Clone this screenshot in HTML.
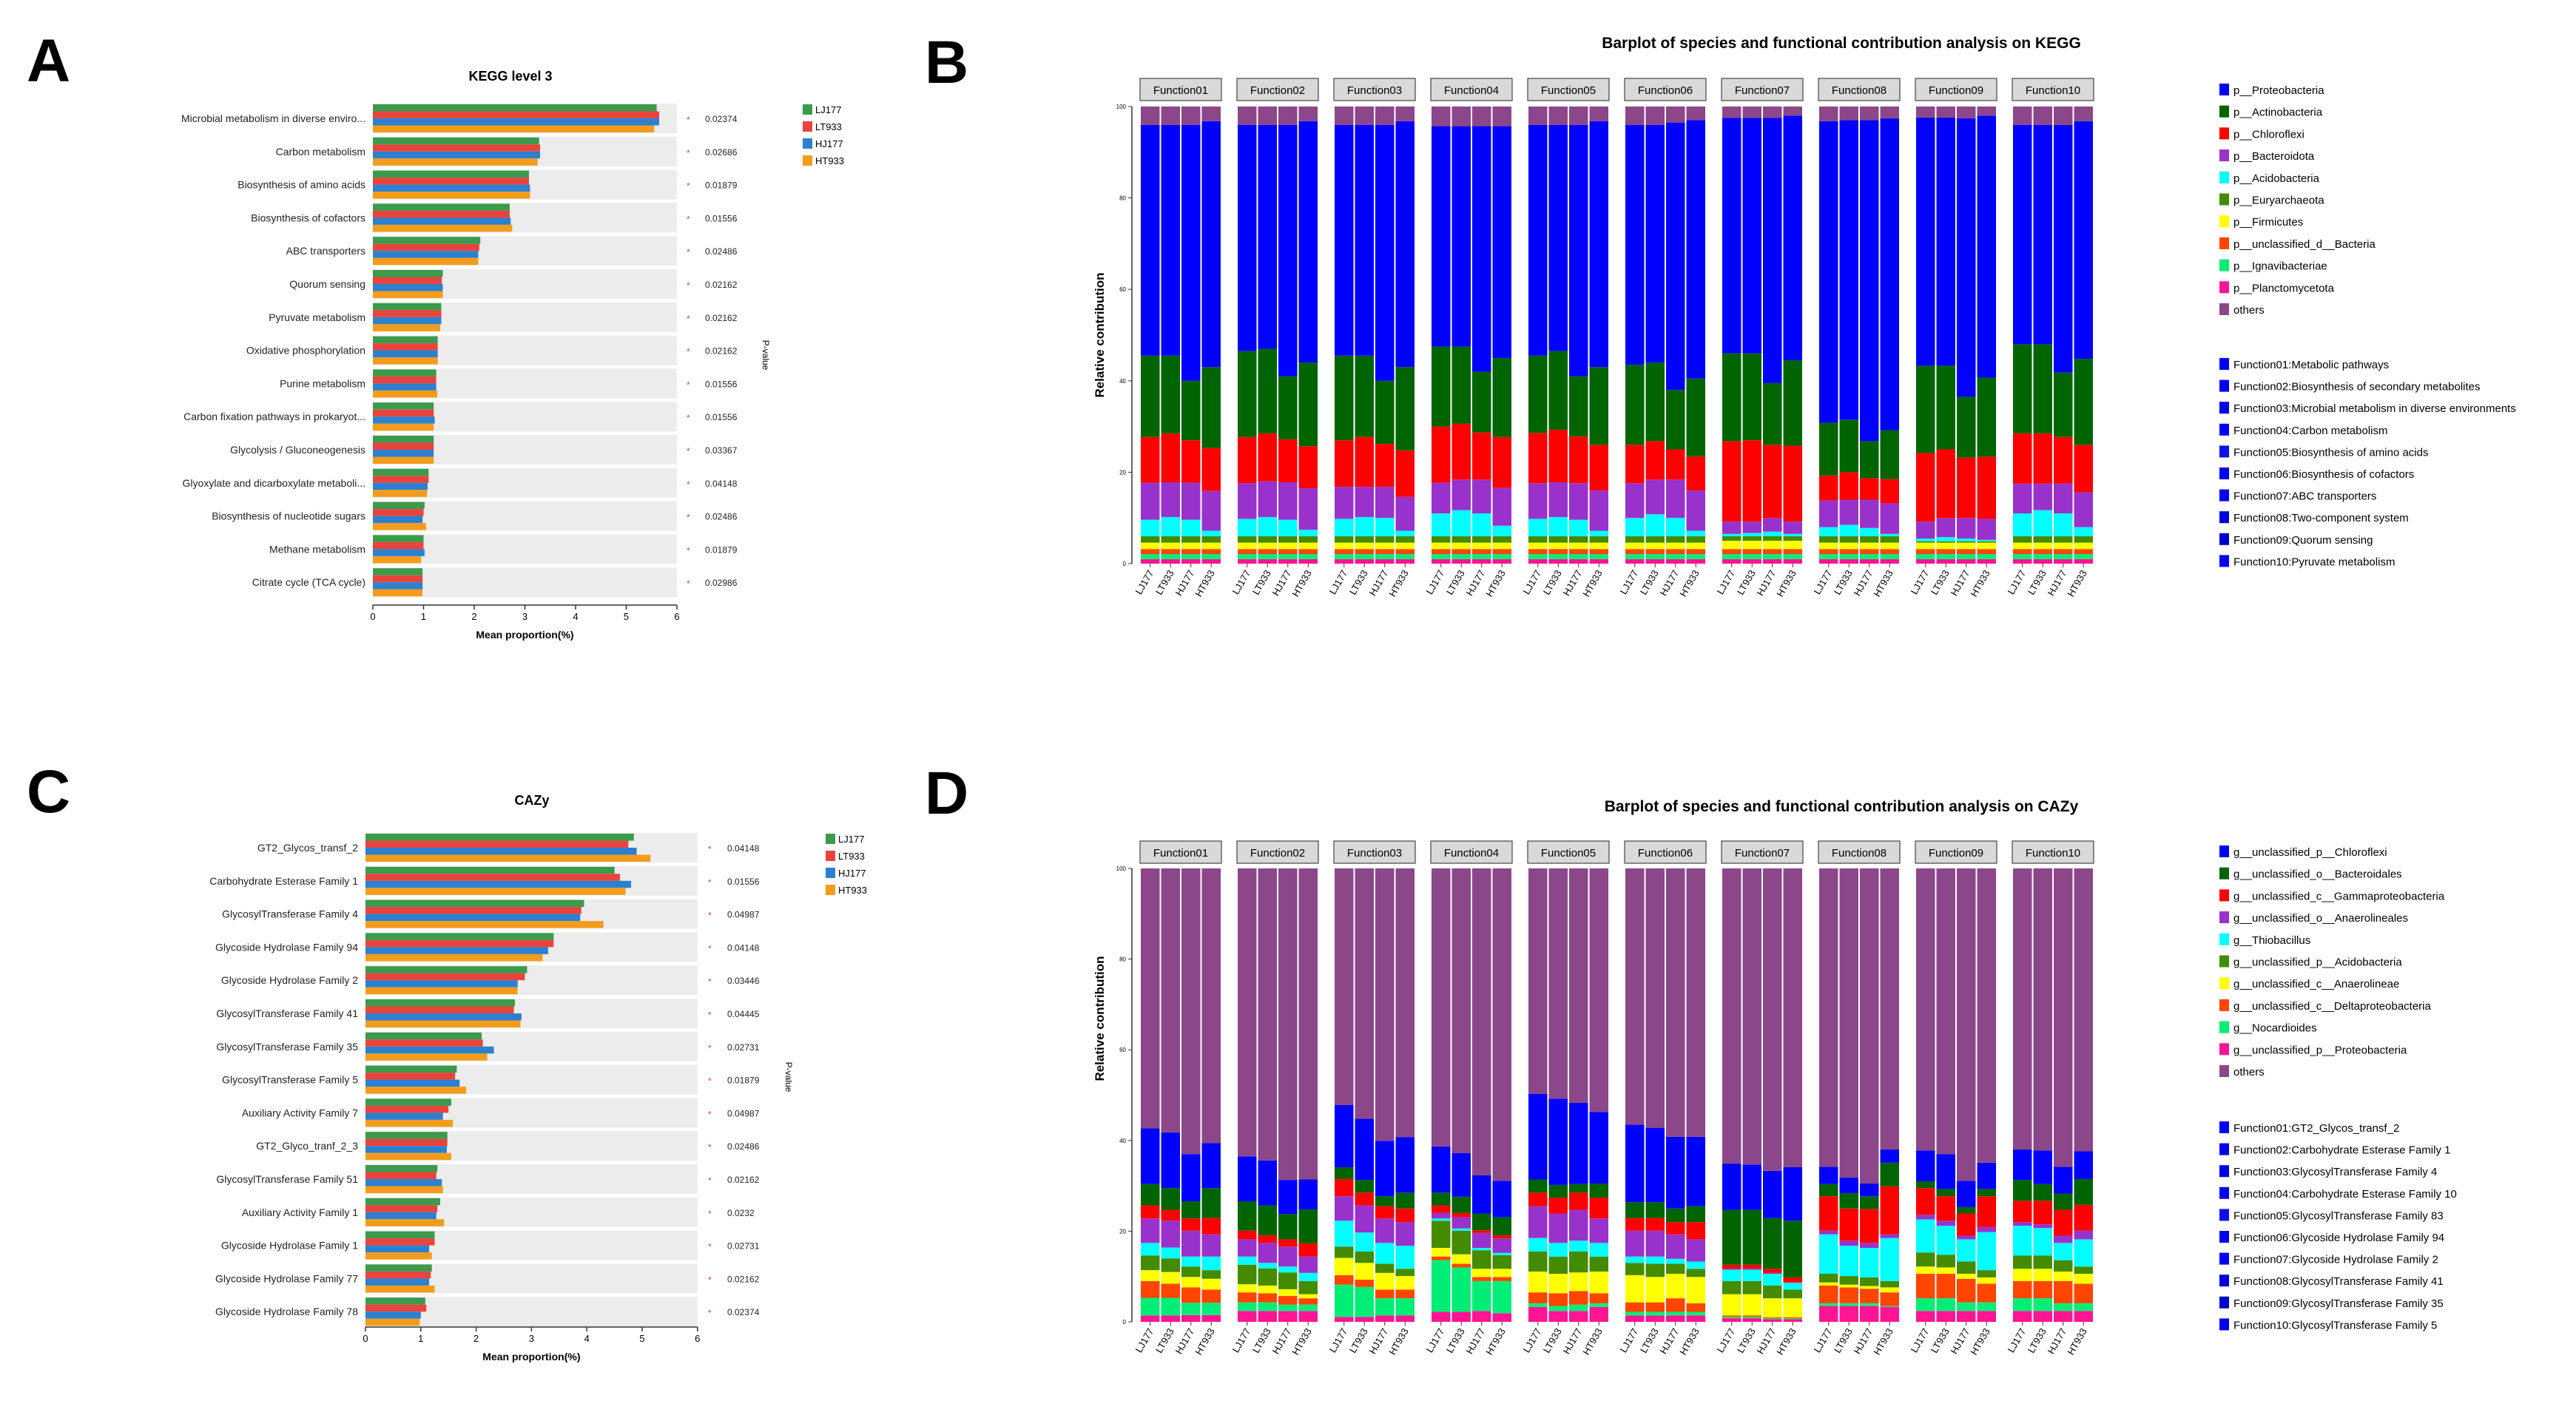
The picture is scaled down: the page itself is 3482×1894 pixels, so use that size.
<!DOCTYPE html>
<html><head><meta charset="utf-8"><style>
html,body{margin:0;padding:0;background:#fff;}
svg{display:block;font-family:"Liberation Sans",sans-serif;}
</style></head><body>
<svg id="fig" width="3482" height="1894" viewBox="0 0 3482 1894" xmlns="http://www.w3.org/2000/svg">
<rect x="0" y="0" width="3482" height="1894" fill="#fff"/>
<text x="36" y="110" font-size="82" font-weight="bold">A</text>
<text x="1250" y="112" font-size="82" font-weight="bold">B</text>
<text x="36" y="1098" font-size="82" font-weight="bold">C</text>
<text x="1250" y="1100" font-size="82" font-weight="bold">D</text>
<g id="gA"></g>
<g id="gC"></g>
<g id="gB"></g>
<g id="gD"></g>
</svg>
<script>
// ---------- Panel A data ----------
const keggCategories = ["Microbial metabolism in diverse enviro...","Carbon metabolism","Biosynthesis of amino acids","Biosynthesis of cofactors","ABC transporters","Quorum sensing","Pyruvate metabolism","Oxidative phosphorylation","Purine metabolism","Carbon fixation pathways in prokaryot...","Glycolysis / Gluconeogenesis","Glyoxylate and dicarboxylate metaboli...","Biosynthesis of nucleotide sugars","Methane metabolism","Citrate cycle (TCA cycle)"];
const keggLJ177 = [5.6,3.28,3.08,2.7,2.12,1.38,1.35,1.28,1.25,1.2,1.2,1.1,1.02,1.0,0.98];
const keggLT933 = [5.65,3.3,3.08,2.7,2.1,1.36,1.35,1.28,1.25,1.2,1.2,1.1,1.0,1.0,0.98];
const keggHJ177 = [5.65,3.3,3.1,2.72,2.08,1.38,1.35,1.28,1.25,1.22,1.2,1.08,0.98,1.02,0.98];
const keggHT933 = [5.55,3.25,3.1,2.75,2.08,1.38,1.33,1.28,1.27,1.2,1.2,1.07,1.05,0.95,0.98];
const keggPvalues = ["0.02374","0.02686","0.01879","0.01556","0.02486","0.02162","0.02162","0.02162","0.01556","0.01556","0.03367","0.04148","0.02486","0.01879","0.02986"];
const hbarTicks = [0,1,2,3,4,5,6];
const groupNames = ["LJ177","LT933","HJ177","HT933"];

// ---------- Panel C data ----------
const cazyCategories = ["GT2_Glycos_transf_2","Carbohydrate Esterase Family 1","GlycosylTransferase Family 4","Glycoside Hydrolase Family 94","Glycoside Hydrolase Family 2","GlycosylTransferase Family 41","GlycosylTransferase Family 35","GlycosylTransferase Family 5","Auxiliary Activity Family 7","GT2_Glyco_tranf_2_3","GlycosylTransferase Family 51","Auxiliary Activity Family 1","Glycoside Hydrolase Family 1","Glycoside Hydrolase Family 77","Glycoside Hydrolase Family 78"];
const cazyLJ177 = [4.85,4.5,3.95,3.4,2.92,2.7,2.1,1.65,1.55,1.48,1.3,1.35,1.25,1.2,1.08];
const cazyLT933 = [4.75,4.6,3.9,3.4,2.88,2.68,2.12,1.62,1.5,1.48,1.28,1.3,1.25,1.18,1.1];
const cazyHJ177 = [4.9,4.8,3.88,3.3,2.75,2.82,2.32,1.7,1.4,1.47,1.38,1.28,1.15,1.15,1.0];
const cazyHT933 = [5.15,4.7,4.3,3.2,2.75,2.8,2.2,1.82,1.58,1.55,1.4,1.42,1.2,1.25,0.98];
const cazyPvalues = ["0.04148","0.01556","0.04987","0.04148","0.03446","0.04445","0.02731","0.01879","0.04987","0.02486","0.02162","0.0232","0.02731","0.02162","0.02374"];

// ---------- Panel B data (per-series values, 10 functions x 4 samples) ----------
const functionNames = ["Function01","Function02","Function03","Function04","Function05","Function06","Function07","Function08","Function09","Function10"];
const stackTicks = [0,20,40,60,80,100];
const bPlancto = [1,1,1,1, 1,1,1,1, 1,1,1,1, 1,1,1,1, 1,1,1,1, 1,1,1,1, 1,1,1,1, 1,1,1,1, 1,1,1,1, 1,1,1,1];
const bIgnav   = [1.1,1.1,1.1,1.1, 1.1,1.1,1.1,1.1, 1.1,1.1,1.1,1.1, 1.1,1.1,1.1,1.1, 1.1,1.1,1.1,1.1, 1.1,1.1,1.1,1.1, 1.1,1.1,1.1,1.1, 1.1,1.1,1.1,1.1, 1.1,1.1,1.1,1.1, 1.1,1.1,1.1,1.1];
const bUnclass = [1.1,1.1,1.1,1.1, 1.1,1.1,1.1,1.1, 1.1,1.1,1.1,1.1, 1.1,1.1,1.1,1.1, 1.1,1.1,1.1,1.1, 1.1,1.1,1.1,1.1, 1.1,1.1,1.1,1.1, 1.1,1.1,1.1,1.1, 1.1,1.1,1.1,1.1, 1.1,1.1,1.1,1.1];
const bFirmi   = [1.4,1.4,1.4,1.4, 1.4,1.4,1.4,1.4, 1.4,1.4,1.4,1.4, 1.4,1.4,1.4,1.4, 1.4,1.4,1.4,1.4, 1.4,1.4,1.4,1.4, 1.8,1.8,1.8,1.8, 1.4,1.4,1.4,1.4, 1.4,1.4,1.4,1.4, 1.4,1.4,1.4,1.4];
const bEury    = [1.4,1.4,1.4,1.4, 1.4,1.4,1.4,1.4, 1.4,1.4,1.4,1.4, 1.4,1.4,1.4,1.4, 1.4,1.4,1.4,1.4, 1.4,1.4,1.4,1.4, 1.0,1.0,1.0,1.0, 1.4,1.4,1.4,1.4, 0.3,0.3,0.3,0.3, 1.4,1.4,1.4,1.4];
const bAcido   = [3.6,4.2,3.6,1.2, 3.8,4.2,3.6,1.4, 3.8,4.2,4.0,1.2, 5.0,5.7,5.0,2.3, 3.8,4.2,3.6,1.2, 4.0,4.8,4.0,1.2, 0.5,0.7,1.0,0.5, 2.0,2.5,1.8,0.5, 0.6,0.9,0.6,0.3, 5.0,5.7,5.0,2.0];
const bBactero = [8.1,7.6,8.1,8.7, 7.8,7.8,8.2,9.1, 7.0,6.6,6.8,7.4, 6.7,6.7,7.4,8.3, 7.8,7.6,8.0,8.8, 7.6,7.6,8.4,8.8, 2.7,2.5,3.0,2.7, 5.8,5.5,6.2,6.7, 3.7,4.2,4.5,4.6, 6.5,5.8,6.5,7.6];
const bChloro  = [10.0,10.7,9.3,9.4, 10.1,10.5,9.4,9.2, 10.2,10.9,9.4,10.2, 12.3,12.2,10.3,11.1, 11.0,11.5,10.2,10.0, 8.4,8.4,6.6,7.5, 17.6,17.8,16.0,16.6, 5.5,6.0,4.7,5.3, 15.0,15.0,13.2,13.6, 11.0,11.0,10.2,10.4];
const bActino  = [17.8,17.0,13.0,17.7, 18.8,18.5,13.8,18.3, 18.5,17.8,13.8,18.2, 17.5,16.9,13.3,17.3, 16.9,17.2,13.2,17.0, 17.5,17.2,13.0,17.0, 19.2,19.0,13.5,18.7, 11.5,11.5,8.1,10.7, 19.1,18.3,13.3,17.3, 19.5,19.5,14.1,18.8];
const bProteo  = [50.5,50.5,56,53.8, 49.5,49,55,52.8, 50.5,50.5,56,53.8, 48.2,48.2,53.7,50.7, 50.5,49.5,55,53.8, 52.5,52,58.5,56.5, 51.5,51.5,58,53.5, 66,65.5,70.2,68.2, 54.3,54.3,60.9,57.3, 48,48,54.2,52];
const bOthers  = [4,4,4,3.2, 4,4,4,3.2, 4,4,4,3.2, 4.3,4.3,4.3,4.3, 4,4,4,3.2, 4,4,3.5,3, 2.5,2.5,2.5,2, 3.2,3,3,2.6, 2.4,2.4,2.6,2.2, 4,4,4,3.2];

// ---------- Panel D data (cumulative upper boundary of each genus, %) ----------
const dTopProteob = [1.4,1.4,1.5,1.5, 2.4,2.4,2.4,2.4, 1.1,1.1,1.4,1.4, 2.2,2.2,2.4,1.9, 3.3,2.4,2.4,3.3, 1.4,1.4,1.4,1.4, 0.8,0.8,0.6,0.6, 3.5,3.5,3.5,3.3, 2.4,2.4,2.4,2.4, 2.4,2.4,2.4,2.4];
const dTopNocard  = [5.3,5.3,4.2,4.2, 4.3,4.3,3.8,3.8, 8.2,7.7,5.2,5.2, 13.6,12.0,9.0,9.0, 4.1,3.5,3.8,4.1, 2.2,2.2,2.2,2.2, 1.1,1.1,0.8,0.8, 4.1,4.1,4.1,3.5, 5.2,5.2,4.3,4.3, 5.2,5.2,4.1,4.1];
const dTopDelta   = [9.0,8.4,7.6,7.1, 6.5,6.3,5.7,5.2, 10.3,9.3,7.1,7.1, 14.4,12.8,9.9,9.9, 6.5,6.3,6.8,6.3, 4.3,4.3,5.2,4.1, 1.4,1.4,1.0,1.0, 8.0,7.6,7.3,6.5, 10.6,10.6,9.5,8.4, 9.0,9.0,9.0,8.4];
const dTopAnaeroC = [11.4,11.0,9.9,9.5, 8.3,8.0,7.2,6.1, 14.1,13.0,10.8,10.1, 16.3,14.9,11.7,11.7, 11.1,10.6,10.9,11.1, 10.3,9.9,10.6,9.9, 6.1,6.1,5.2,5.2, 8.7,8.2,7.9,7.6, 12.2,12.0,10.6,9.8, 11.7,11.7,11.1,10.6];
const dTopAcido   = [14.6,14.0,12.2,11.4, 12.6,11.8,10.9,9.0, 16.6,15.5,12.8,11.7, 22.3,20.1,15.8,14.7, 15.5,14.4,15.5,14.4, 13.0,12.8,12.8,11.7, 9.0,9.0,8.0,7.1, 10.6,10.1,9.8,9.0, 15.3,14.8,13.3,11.4, 14.6,14.6,13.6,12.2];
const dTopThiob   = [17.4,16.4,14.4,14.4, 14.4,13.0,12.2,10.8, 22.3,19.7,17.4,16.8, 22.8,20.6,16.3,15.2, 18.5,17.4,17.9,17.4, 14.4,14.4,13.9,13.3, 11.5,11.5,10.6,8.6, 19.3,16.8,16.3,18.5, 22.6,21.2,18.2,19.8, 21.2,20.7,17.4,18.2];
const dTopAnaeroO = [22.8,22.3,20.1,19.3, 18.2,17.4,16.6,14.4, 27.7,25.7,22.8,22.0, 24.0,23.1,19.6,18.4, 25.5,23.9,24.7,22.8, 20.1,20.1,19.3,18.2, 11.7,11.7,10.8,8.7, 20.1,17.9,17.4,19.3, 23.6,22.3,19.0,20.9, 22.0,21.5,19.0,20.1];
const dTopGamma   = [25.7,24.7,22.8,22.9, 20.1,19.1,18.2,17.3, 31.5,28.5,25.5,25.0, 25.7,24.0,20.2,19.1, 28.5,27.4,28.5,27.4, 22.9,22.9,22.0,22.0, 12.6,12.6,11.7,9.8, 27.7,25.0,24.9,29.9, 29.5,27.7,23.9,27.7, 26.7,26.7,24.7,25.8];
const dTopBactero = [30.4,29.5,26.6,29.5, 26.6,25.7,23.8,24.8, 34.1,31.3,27.7,28.5, 28.5,27.6,23.9,23.1, 31.4,30.2,30.4,30.5, 26.4,26.4,25.0,25.5, 24.7,24.7,22.9,22.3, 30.4,28.4,27.7,35.1, 31.0,29.3,25.3,29.3, 31.3,30.4,28.3,31.5];
const dTopChloro  = [42.7,41.8,37.0,39.4, 36.5,35.6,31.3,31.4, 47.8,44.8,39.9,40.7, 38.7,37.2,32.3,31.1, 50.3,49.2,48.3,46.3, 43.5,42.8,40.8,40.8, 34.9,34.7,33.3,34.1, 34.2,31.8,30.5,38.0, 37.8,37.0,31.1,35.1, 38.0,37.8,34.2,37.6];
const dTopOthers  = [100,100,100,100, 100,100,100,100, 100,100,100,100, 100,100,100,100, 100,100,100,100, 100,100,100,100, 100,100,100,100, 100,100,100,100, 100,100,100,100, 100,100,100,100];

const NS = "http://www.w3.org/2000/svg";
function mk(parent, tag, attrs, txt){
  const e = document.createElementNS(NS, tag);
  for (const k in attrs) e.setAttribute(k, attrs[k]);
  if (txt !== undefined) e.textContent = txt;
  parent.appendChild(e);
  return e;
}
const grpColors = ["#3b9a4b","#e8443d","#2b80d0","#f39c1c"];

function drawHBar(g, cfg, cats, series, pvals){
  const xs = v => cfg.x0 + v * cfg.unit;
  const xMax = xs(6);
  let t = mk(g,"text",{x:cfg.titleX,y:cfg.titleY,"font-size":18,"font-weight":"bold","text-anchor":"middle"},cfg.title);
  
  
  cats.forEach((c,i)=>{
    const top = cfg.band0 + i*cfg.step;
    const band = mk(g,"rect",{x:cfg.x0,y:top,width:xMax-cfg.x0,height:cfg.bandH,fill:"#ececec"});
    
    
    series.forEach((s,k)=>{
      const r = mk(g,"rect",{x:cfg.x0,y:top+1+k*(cfg.bandH-2)/4,width:xs(s[i])-cfg.x0,height:(cfg.bandH-2)/4,fill:grpColors[k]});
      
      
    });
    const lb = mk(g,"text",{x:cfg.x0-10,y:top+cfg.bandH/2+5,"font-size":14,"text-anchor":"end",fill:"#222"},c);
    
    
    const st = mk(g,"text",{x:cfg.starX,y:top+cfg.bandH/2+6,"font-size":12,fill:"#e04040"},"*");
    
    
    const pv = mk(g,"text",{x:cfg.pX,y:top+cfg.bandH/2+5,"font-size":12,fill:"#222"},pvals[i]);
    
    
  });
  const ax = mk(g,"line",{x1:cfg.x0,x2:xMax,y1:cfg.axisY,y2:cfg.axisY,stroke:"#333","stroke-width":1.5});
  
  
  hbarTicks.forEach(v=>{
    const tk = mk(g,"line",{x1:xs(v),x2:xs(v),y1:cfg.axisY,y2:cfg.axisY+6,stroke:"#333","stroke-width":1.5});
    
    
    const tl = mk(g,"text",{x:xs(v),y:cfg.axisY+20,"font-size":13,"text-anchor":"middle"},String(v));
    
    
  });
  const xl = mk(g,"text",{x:(cfg.x0+xMax)/2,y:cfg.axisY+45,"font-size":14,"font-weight":"bold","text-anchor":"middle"},"Mean proportion(%)");
  
  
  const pl = mk(g,"text",{x:cfg.pLabX,y:cfg.pLabY,"font-size":12,"text-anchor":"middle",transform:`rotate(90 ${cfg.pLabX} ${cfg.pLabY})`},"P-value");
  
  
  groupNames.forEach((n,k)=>{
    const y = cfg.legY + k*23;
    const sq = mk(g,"rect",{x:cfg.legX,y:y,width:13,height:14,fill:grpColors[k]});
    
    
    const lt = mk(g,"text",{x:cfg.legX+17,y:y+12,"font-size":13},n);
    
    
  });
}

drawHBar(document.getElementById("gA"),
  {x0:504,unit:68.5,band0:140,step:44.8,bandH:40,axisY:818,title:"KEGG level 3",titleX:690,titleY:109,starX:928,pX:953,pLabX:1031,pLabY:480,legX:1085,legY:141},
  keggCategories,[keggLJ177,keggLT933,keggHJ177,keggHT933],keggPvalues);
drawHBar(document.getElementById("gC"),
  {x0:494,unit:74.8,band0:1126,step:44.8,bandH:40,axisY:1794,title:"CAZy",titleX:719,titleY:1088,starX:957,pX:983,pLabX:1062,pLabY:1456,legX:1116,legY:1127},
  cazyCategories,[cazyLJ177,cazyLT933,cazyHJ177,cazyHT933],cazyPvalues);

// ---------- stacked facet charts ----------
function drawStack(g, cfg, layers, colors, legendNames, funcLegend){
  const ys = v => cfg.bottom - v/100*(cfg.bottom-cfg.top);
  const t = mk(g,"text",{x:2489,y:cfg.titleY,"font-size":21,"font-weight":"bold","text-anchor":"middle"},cfg.title);
  
  
  const yl = mk(g,"text",{x:1492,y:cfg.yLabY,"font-size":17,"font-weight":"bold","text-anchor":"middle",transform:`rotate(-90 1492 ${cfg.yLabY})`},"Relative contribution");
  
  
  const ax = mk(g,"line",{x1:1530,x2:1530,y1:cfg.top,y2:cfg.bottom,stroke:"#333","stroke-width":1.5});
  
  
  stackTicks.forEach(v=>{
    const tk = mk(g,"line",{x1:1525,x2:1530,y1:ys(v),y2:ys(v),stroke:"#333"});
    
    
    const tl = mk(g,"text",{x:1522,y:ys(v)+3,"font-size":8,"text-anchor":"end"},String(v));
    
    
  });
  functionNames.forEach((fn,f)=>{
    const fx = 1541 + f*131;
    const strip = mk(g,"rect",{x:fx,y:cfg.stripY,width:110,height:30,fill:"#d9d9d9",stroke:"#444","stroke-width":1.2});
    
    
    const st = mk(g,"text",{x:fx+55,y:cfg.stripY+21,"font-size":15,"text-anchor":"middle"},fn);
    
    
    for (let s=0;s<4;s++){
      const idx = f*4+s;
      const bx = fx + s*27.5 + 1;
      let cum = 0;
      layers.forEach((arr,li)=>{
        const lo = cfg.cumulative ? (li===0?0:layers[li-1][idx]) : cum;
        const hi = cfg.cumulative ? arr[idx] : cum + arr[idx];
        cum = hi;
        const r = mk(g,"rect",{x:bx,y:ys(Math.min(hi,100)),width:25.5,height:Math.max(0,ys(lo)-ys(Math.min(hi,100))),fill:colors[li]});
        
        
      });
      const tkx = bx+12.75;
      const tk = mk(g,"line",{x1:tkx,x2:tkx,y1:cfg.bottom,y2:cfg.bottom+5,stroke:"#333"});
      
      
      const lab = mk(g,"text",{x:tkx+5,y:cfg.bottom+12,"font-size":13,"text-anchor":"end",transform:`rotate(-60 ${tkx+5} ${cfg.bottom+12})`},groupNames[s]);
      
      
    }
  });
  for (let i=0;i<legendNames.length;i++){
    const y = cfg.legY + i*29.7;
    const sq = mk(g,"rect",{x:3000,y:y-8,width:13,height:16,fill:cfg.legColors[i]});
    
    
    const lt = mk(g,"text",{x:3019,y:y+6,"font-size":15},legendNames[i]);
    
    
  }
  const blues = ["#0000ff","#0000ee","#0000e6","#0000ff","#1010ee","#0000f5","#0000ff","#0000dd","#0000cc","#0000ee"];
  funcLegend.forEach((n,i)=>{
    const y = cfg.fLegY + i*29.6;
    const sq = mk(g,"rect",{x:3000,y:y-8,width:13,height:16,fill:blues[i]});
    
    
    const lt = mk(g,"text",{x:3019,y:y+6,"font-size":15},n);
    
    
  });
}

const bColors = ["#ff1493","#00ee76","#ff4500","#ffff00","#458b00","#00ffff","#9932cc","#ff0000","#006400","#0000ff","#8b4789"];
const bLegendNames = ["p__Proteobacteria","p__Actinobacteria","p__Chloroflexi","p__Bacteroidota","p__Acidobacteria","p__Euryarchaeota","p__Firmicutes","p__unclassified_d__Bacteria","p__Ignavibacteriae","p__Planctomycetota","others"];
const legColB = ["#0000ff","#006400","#ff0000","#9932cc","#00ffff","#458b00","#ffff00","#ff4500","#00ee76","#ff1493","#8b4789"];
drawStack(document.getElementById("gB"),
  {top:144,bottom:762,titleY:65,yLabY:453,stripY:106,legY:121,fLegY:492,cumulative:false,title:"Barplot of species and functional contribution analysis on KEGG",legColors:legColB},
  [bPlancto,bIgnav,bUnclass,bFirmi,bEury,bAcido,bBactero,bChloro,bActino,bProteo,bOthers],
  bColors, bLegendNames,
  ["Function01:Metabolic pathways","Function02:Biosynthesis of secondary metabolites","Function03:Microbial metabolism in diverse environments","Function04:Carbon metabolism","Function05:Biosynthesis of amino acids","Function06:Biosynthesis of cofactors","Function07:ABC transporters","Function08:Two-component system","Function09:Quorum sensing","Function10:Pyruvate metabolism"]);

const dLegendNames = ["g__unclassified_p__Chloroflexi","g__unclassified_o__Bacteroidales","g__unclassified_c__Gammaproteobacteria","g__unclassified_o__Anaerolineales","g__Thiobacillus","g__unclassified_p__Acidobacteria","g__unclassified_c__Anaerolineae","g__unclassified_c__Deltaproteobacteria","g__Nocardioides","g__unclassified_p__Proteobacteria","others"];
drawStack(document.getElementById("gD"),
  {top:1174,bottom:1787,titleY:1097,yLabY:1377,stripY:1137,legY:1151,fLegY:1524,cumulative:true,title:"Barplot of species and functional contribution analysis on CAZy",legColors:legColB},
  [dTopProteob,dTopNocard,dTopDelta,dTopAnaeroC,dTopAcido,dTopThiob,dTopAnaeroO,dTopGamma,dTopBactero,dTopChloro,dTopOthers],
  bColors, dLegendNames,
  ["Function01:GT2_Glycos_transf_2","Function02:Carbohydrate Esterase Family 1","Function03:GlycosylTransferase Family 4","Function04:Carbohydrate Esterase Family 10","Function05:GlycosylTransferase Family 83","Function06:Glycoside Hydrolase Family 94","Function07:Glycoside Hydrolase Family 2","Function08:GlycosylTransferase Family 41","Function09:GlycosylTransferase Family 35","Function10:GlycosylTransferase Family 5"]);
</script>
</body></html>
